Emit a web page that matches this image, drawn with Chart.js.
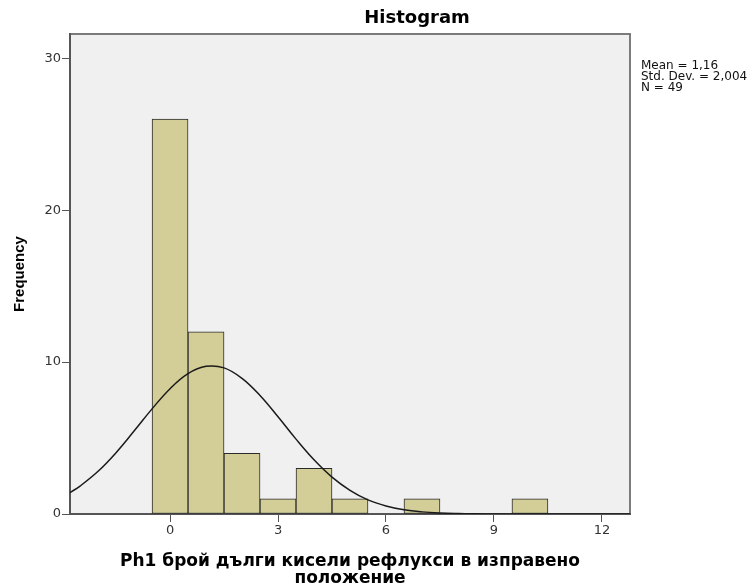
<!DOCTYPE html>
<html>
<head>
<meta charset="utf-8">
<script src="https://cdn.jsdelivr.net/npm/chart.js@4/dist/chart.umd.min.js"></script>
<style>
    body { margin: 0; background: #fff; }
    #wrap { width: 754px; height: 587px; }
</style>
</head>
<body>
<div id="wrap"><canvas id="histo"></canvas></div>
<script>
// Bins of width 1, centred on the integers
const binCenters = [0, 1, 2, 3, 4, 5, 6, 7, 8, 9, 10];
const binCounts = [26, 12, 4, 1, 3, 1, 0, 1, 0, 0, 1];

// Normal curve (Mean 1,16 / SD 2,004 / N 49)
const curveX = [-2.78, -2.5, -2, -1.5, -1, -0.5, 0, 0.5, 1, 1.5, 2, 2.5, 3, 3.5, 4, 4.5, 5, 5.5, 6, 6.5, 7, 7.5, 8, 8.5, 9, 9.5, 10, 10.5, 11, 11.5, 12, 12.5, 12.78];
const curveY = [1.41, 1.84, 2.81, 4.04, 5.46, 6.92, 8.25, 9.24, 9.72, 9.62, 8.93, 7.80, 6.40, 4.93, 3.57, 2.43, 1.56, 0.93, 0.53, 0.28, 0.14, 0.065, 0.029, 0.012, 0.005, 0.002, 0.0006, 0, 0, 0, 0, 0, 0];

const xTicks = [0, 3, 6, 9, 12];
const yTicks = [0, 10, 20, 30];

const statsLines = ['Mean = 1,16', 'Std. Dev. = 2,004', 'N = 49'];

const WIDE = '"DejaVu Sans", Verdana, sans-serif';
const ARIAL = 'Arial, "Liberation Sans", sans-serif';

// grey plot background + frame, then the free texts
const framePlugin = {
    id: 'frame',
    beforeDraw(chart) {
        const {ctx, chartArea: a} = chart;
        ctx.save();
        ctx.fillStyle = '#f0f0f0';
        ctx.fillRect(a.left, a.top, a.right - a.left, a.bottom - a.top);
        ctx.strokeStyle = '#6e6e6e';
        ctx.lineWidth = 1.8;
        ctx.strokeRect(a.left, a.top, a.right - a.left, a.bottom - a.top);
        ctx.restore();
    },
    afterDraw(chart) {
        const ctx = chart.ctx;
        ctx.save();
        ctx.fillStyle = '#000';
        ctx.textBaseline = 'middle';
        ctx.textAlign = 'center';
        ctx.font = 'bold 18px ' + WIDE;
        ctx.fillText('Histogram', 417, 18);
        ctx.textAlign = 'left';
        ctx.fillStyle = '#111';
        ctx.font = '12px ' + WIDE;
        statsLines.forEach((s, i) => ctx.fillText(s, 641, 66 + i * 11));
        ctx.restore();
    }
};

new Chart(document.getElementById('histo'), {
    type: 'bar',
    data: {
        datasets: [
            {
                type: 'line',
                order: 0,
                data: curveX.map((x, i) => ({x: x, y: curveY[i]})),
                borderColor: '#1a1a1a',
                borderWidth: 1.5,
                pointRadius: 0,
                tension: 0.4,
                fill: false
            },
            {
                type: 'bar',
                order: 1,
                data: binCenters.map((x, i) => ({x: x, y: binCounts[i] || null})),
                backgroundColor: '#d3ce97',
                borderColor: '#2b2b2b',
                borderWidth: 1,
                borderSkipped: false,
                barPercentage: 1.0,
                categoryPercentage: 1.0
            }
        ]
    },
    options: {
        responsive: true,
        maintainAspectRatio: false,
        animation: false,
        layout: { padding: { top: 34, right: 124, left: 0, bottom: 0 } },
        plugins: {
            legend: { display: false },
            tooltip: { enabled: false }
        },
        scales: {
            x: {
                type: 'linear',
                offset: false,
                min: -2.78,
                max: 12.78,
                afterBuildTicks: s => { s.ticks = xTicks.map(v => ({value: v})); },
                afterFit: s => { s.height = 73; },
                grid: { offset: false, drawOnChartArea: false, drawTicks: true, tickLength: 8, tickColor: '#555' },
                border: { color: '#555', width: 2 },
                ticks: { color: '#333', font: { family: WIDE, size: 13 }, padding: 1, maxRotation: 0 },
                title: {
                    display: true,
                    text: ['Ph1 брой дълги кисели рефлукси в изправено', 'положение'],
                    color: '#000',
                    font: { family: WIDE, size: 17, weight: 'bold', lineHeight: 1.0 },
                    padding: { top: 0, bottom: 0 }
                }
            },
            y: {
                min: 0,
                max: 31.6,
                afterBuildTicks: s => { s.ticks = yTicks.map(v => ({value: v})); },
                afterFit: s => { s.width = 70; },
                grid: { drawOnChartArea: false, drawTicks: true, tickLength: 8, tickColor: '#555' },
                border: { color: '#555', width: 2 },
                ticks: { color: '#333', font: { family: WIDE, size: 13 }, padding: 1 },
                title: {
                    display: true,
                    text: 'Frequency',
                    color: '#000',
                    font: { family: ARIAL, size: 15, weight: 'bold', lineHeight: 1.2 },
                    padding: { top: 11, bottom: 0 }
                }
            }
        }
    },
    plugins: [framePlugin]
});
</script>
</body>
</html>
